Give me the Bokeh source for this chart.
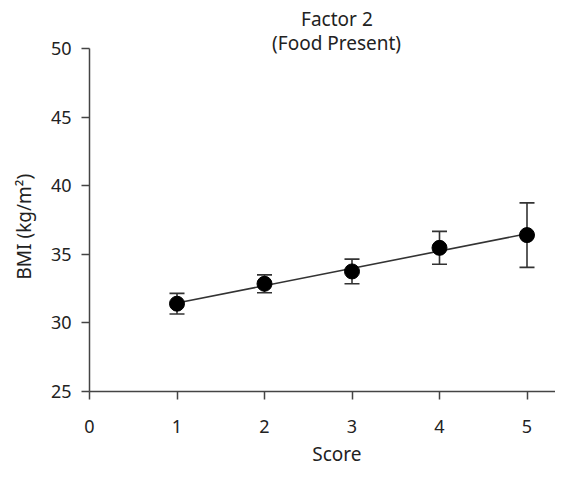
import numpy as np
from bokeh.plotting import figure
from bokeh.models import (ColumnDataSource, Whisker, TeeHead, Range1d, FixedTicker, Title)
from bokeh.embed import file_html
from bokeh.resources import INLINE

# ---- data ----
score = [1, 2, 3, 4, 5]
bmi_mean = [31.4, 32.85, 33.75, 35.47, 36.4]
bmi_err = [0.75, 0.65, 0.9, 1.2, 2.35]
x_ticks = [0, 1, 2, 3, 4, 5]
y_ticks = [25, 30, 35, 40, 45, 50]
title_line1 = "Factor 2"
title_line2 = "(Food Present)"
x_label = "Score"
y_label = "BMI (kg/m²)"

FONT = "Noto Sans"
TXT = "#222222"
AX = "#444444"

src = ColumnDataSource(dict(
    x=score, y=bmi_mean,
    upper=[m + e for m, e in zip(bmi_mean, bmi_err)],
    lower=[m - e for m, e in zip(bmi_mean, bmi_err)],
))

slope, icpt = np.polyfit(score, bmi_mean, 1)
fit_x = [min(score), max(score)]
fit_y = [slope * v + icpt for v in fit_x]

p = figure(width=555, height=473,
           min_border_left=89, min_border_right=0,
           min_border_top=47, min_border_bottom=80,
           x_range=Range1d(0, 466 / 87.5), y_range=Range1d(25, 50),
           output_backend="svg", toolbar_location=None, title=None)
p.outline_line_color = None
p.grid.visible = False
p.background_fill_color = "white"
p.border_fill_color = "white"

p.line(fit_x, fit_y, line_color="#333333", line_width=1.6)
w = Whisker(source=src, base="x", upper="upper", lower="lower",
            line_color="#333333", line_width=1.6, level="underlay",
            upper_head=TeeHead(size=15, line_color="#333333", line_width=1.6),
            lower_head=TeeHead(size=15, line_color="#333333", line_width=1.6))
p.add_layout(w)
p.scatter("x", "y", source=src, size=15, fill_color="black", line_color="black")

for ax in (p.xaxis[0], p.yaxis[0]):
    ax.axis_line_color = AX
    ax.axis_line_width = 1.5
    ax.major_tick_line_color = AX
    ax.major_tick_line_width = 1.5
    ax.major_tick_out = 8
    ax.major_tick_in = 0
    ax.minor_tick_line_color = None
    ax.major_label_text_font = FONT
    ax.major_label_text_font_size = "18px"
    ax.major_label_text_color = TXT

p.xaxis.ticker = FixedTicker(ticks=x_ticks)
p.yaxis.ticker = FixedTicker(ticks=y_ticks)
p.xaxis.major_label_standoff = 20
p.yaxis.major_label_standoff = 10

def ttl(text, side, offset, standoff, valign):
    t = Title(text=text, align="left", offset=offset, standoff=standoff,
              vertical_align=valign,
              text_font=FONT, text_font_size="19px", text_font_style="normal",
              text_color=TXT)
    p.add_layout(t, side)

ttl(title_line2, "above", 182.6, -14, "bottom")
ttl(title_line1, "above", 211.6, 6, "bottom")
ttl(x_label, "below", 222.7, 10, "top")
ttl(y_label, "left", 112, 17, "top")

open("out.html", "w").write(file_html(p, INLINE))
